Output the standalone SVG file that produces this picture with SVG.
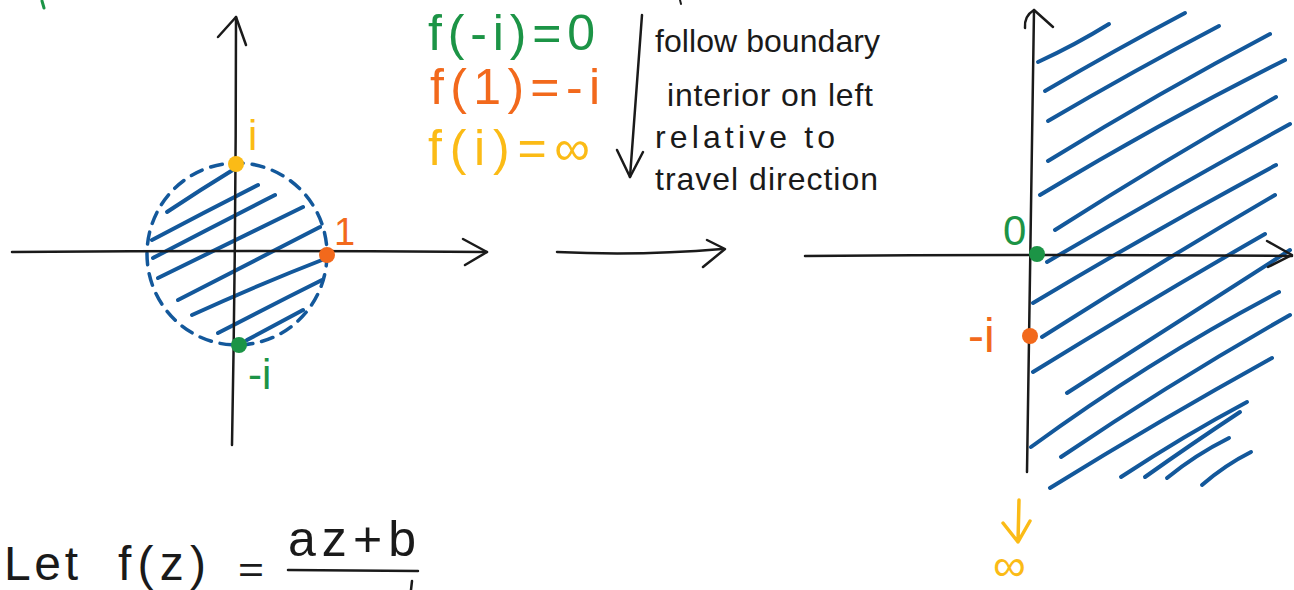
<svg xmlns="http://www.w3.org/2000/svg" width="1294" height="590" viewBox="0 0 1294 590">
<style>
.ax{fill:none;stroke:#1a1a1a;stroke-width:2.5;stroke-linecap:round;stroke-linejoin:round}
.h{fill:none;stroke:#13589b;stroke-width:4;stroke-linecap:round}
.dash{fill:none;stroke:#13589b;stroke-width:3.5;stroke-dasharray:12 9;stroke-linecap:round}
.t{font-family:"Liberation Sans","DejaVu Sans",sans-serif}
.blk{fill:#1a1a1a}
.g{fill:#1c9446}.o{fill:#f2691c}.y{fill:#fbbb16}
</style>
<rect width="1294" height="590" fill="#ffffff"/>

<g id="left-plane">
  <g class="h">
    <path d="M167,212 Q200,190 236,168"/>
    <path d="M152,240 Q205,212 258,185"/>
    <path d="M153,258 Q214,226 275,195"/>
    <path d="M158,278 Q230,243 303,207"/>
    <path d="M178,300 Q250,263 320,227"/>
    <path d="M192,315 Q260,284 327,258"/>
    <path d="M218,333 Q270,306 322,280"/>
    <path d="M247,340 Q275,325 303,310"/>
  </g>
  <ellipse class="dash" cx="237" cy="254" rx="90" ry="91"/>
  <path class="ax" d="M12,252 Q250,250 487,252"/>
  <path class="ax" d="M463,239 L487,252 L465,265"/>
  <path class="ax" d="M232,445 Q236,230 236,17"/>
  <path class="ax" d="M218,37 L236,17 L246,45"/>
  <circle cx="236" cy="164" r="8" class="y"/>
  <circle cx="327" cy="255" r="8" class="o"/>
  <circle cx="239" cy="345" r="8" class="g"/>
  <text class="t y" x="248" y="150" font-size="42">i</text>
  <text class="t o" x="334" y="245" font-size="38">1</text>
  <text class="t g" x="248" y="389" font-size="42">-i</text>
</g>

<g id="equations">
  <text class="t g" x="428" y="50" font-size="50" textLength="167" lengthAdjust="spacing">f(-i)=0</text>
  <text class="t o" x="430" y="104" font-size="50" textLength="170" lengthAdjust="spacing">f(1)=-i</text>
  <text class="t y" x="428" y="165" font-size="50" textLength="162" lengthAdjust="spacing">f(i)=∞</text>
</g>

<g id="note">
  <text class="t blk" x="655" y="52" font-size="32" textLength="225" lengthAdjust="spacing">follow boundary</text>
  <text class="t blk" x="667" y="106" font-size="32" textLength="206" lengthAdjust="spacing">interior on left</text>
  <text class="t blk" x="655" y="148" font-size="32" textLength="180" lengthAdjust="spacing">relative to</text>
  <text class="t blk" x="655" y="190" font-size="32" textLength="223" lengthAdjust="spacing">travel direction</text>
</g>

<g id="right-plane">
  <g class="h">
    <path d="M1038,62 Q1075,45 1109,24"/>
    <path d="M1045,91 Q1115,50 1185,13"/>
    <path d="M1048,121 Q1135,70 1219,26"/>
    <path d="M1048,161 Q1160,92 1270,34"/>
    <path d="M1040,195 Q1165,120 1285,60"/>
    <path d="M1055,230 Q1165,160 1276,97"/>
    <path d="M1047,262 Q1170,190 1290,124"/>
    <path d="M1033,303 Q1155,230 1276,165"/>
    <path d="M1042,337 Q1160,262 1275,195"/>
    <path d="M1033,372 Q1150,300 1265,234"/>
    <path d="M1067,393 Q1180,320 1290,250"/>
    <path d="M1031,447 Q1150,360 1279,292"/>
    <path d="M1061,457 Q1175,380 1290,315"/>
    <path d="M1050,488 Q1160,420 1272,358"/>
    <path d="M1121,477 Q1185,435 1247,402"/>
    <path d="M1145,477 Q1190,445 1240,412"/>
    <path d="M1167,478 Q1195,455 1229,438"/>
    <path d="M1202,485 Q1225,465 1251,452"/>
  </g>
  <path class="ax" d="M805,256 Q1050,254 1292,256"/>
  <path class="ax" d="M1267,241 L1292,255 L1268,267"/>
  <path class="ax" d="M1027,472 Q1030,240 1034,10"/>
  <path class="ax" d="M1025,28 Q1024,16 1034,10 L1053,27"/>
  <circle cx="1037" cy="254" r="8" class="g"/>
  <circle cx="1030" cy="336" r="8" class="o"/>
  <text class="t g" x="1003" y="245" font-size="42">0</text>
  <text class="t o" x="968" y="352" font-size="48">-i</text>
  <path d="M1019,500 L1018,542 M1003,523 L1018,542 L1030,521" fill="none" stroke="#fbbb16" stroke-width="3.5" stroke-linecap="round" stroke-linejoin="round"/>
  <text class="t y" x="993" y="581" font-size="46">∞</text>
</g>

<g id="formula">
  <text class="t blk" x="4" y="580" font-size="48" textLength="74" lengthAdjust="spacing">Let</text>
  <text class="t blk" x="118" y="580" font-size="48" textLength="88" lengthAdjust="spacing">f(z)</text>
  <text class="t blk" x="238" y="582" font-size="36" textLength="26" lengthAdjust="spacingAndGlyphs">=</text>
  <text class="t blk" x="288" y="556" font-size="50" textLength="128" lengthAdjust="spacing">az+b</text>
  <path class="ax" d="M288,570 L418,571" stroke-width="3"/>
  <path class="ax" d="M412,581 L411,590"/>
</g>

<g id="fragments">
  <path d="M42,1 L44,8" stroke="#1c9446" stroke-width="3" stroke-linecap="round"/>
  <path d="M680,0 L681,4" stroke="#1a1a1a" stroke-width="2" stroke-linecap="round"/>
</g>

<g id="connectors">
  <path class="ax" d="M557,252 Q640,256 722,249"/>
  <path class="ax" d="M707,240 L725,249 L703,267"/>
  <path class="ax" d="M642,15 L630,177"/>
  <path class="ax" d="M617,150 L630,177 L643,152"/>
</g>
</svg>
